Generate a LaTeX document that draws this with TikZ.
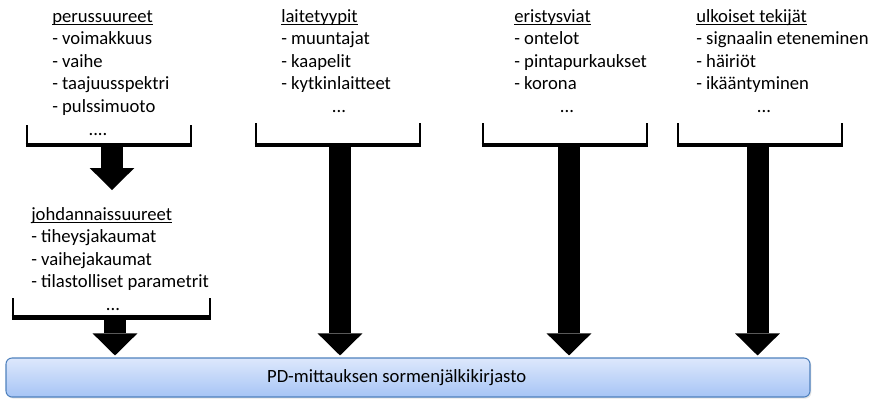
\documentclass[tikz,border=0pt]{standalone}
\usepackage{fontspec}
\setmainfont{Carlito}
\usetikzlibrary{arrows.meta, shadows}

\definecolor{boxtop}{RGB}{221,232,252}
\definecolor{boxbot}{RGB}{166,196,245}
\definecolor{boxline}{RGB}{79,129,189}

\newcommand{\otsikko}[1]{\setbox0\hbox{#1}\rlap{\rule[-1.9pt]{\wd0}{0.7pt}}\box0}

\begin{document}
\begin{tikzpicture}[x=0.75pt, y=-0.75pt,
   list/.style = {anchor=base west, align=left, inner sep=0pt, font=\fontsize{14}{16.875}\selectfont},
   more/.style = {anchor=base, inner sep=0pt, font=\fontsize{14}{16.875}\selectfont},
   side/.style = {line width=1.9pt},
   bar/.style = {line width=3.3pt},
   fat/.style = {line width=16.5pt, -{Triangle[length=16.5pt, width=33.5pt, line width=0pt]}},
   libbox/.style = {draw=boxline, line width=0.8pt, rounded corners=4.5pt,
      top color=boxtop, bottom color=boxbot, minimum width=603pt, minimum height=29.25pt,
      inner sep=0pt, font=\fontsize{14}{16.875}\selectfont,
      drop shadow={opacity=0.2, shadow xshift=1pt, shadow yshift=-1.2pt}}]
   \useasboundingbox (0,0) rectangle (880,405);

   % viimeisen rivin peruslinja
   \node(perus) at (52,112) [list] {\otsikko{perussuureet}\\- voimakkuus\\- vaihe\\- taajuusspektri\\- pulssimuoto};
   \node(johd) at (31,287.5) [list] {\otsikko{johdannaissuureet}\\- tiheysjakaumat\\- vaihejakaumat\\- tilastolliset parametrit};
   \node(laite) at (281,89.5) [list] {\otsikko{laitetyypit}\\- muuntajat\\- kaapelit\\- kytkinlaitteet};
   \node(vika) at (514,89.5) [list] {\otsikko{eristysviat}\\- ontelot\\- pintapurkaukset\\- korona};
   \node(ulko) at (696,89.5) [list] {\otsikko{ulkoiset tekijät}\\- signaalin eteneminen\\- häiriöt\\- ikääntyminen};

   \node(more1) at (98,135) [more] {....};
   \node(more2) at (113,310) [more] {...};
   \node(more3) at (339,112) [more] {...};
   \node(more4) at (567,112) [more] {...};
   \node(more5) at (764,112) [more] {...};

   \node(lib) at (408,377.5) [libbox] {PD-mittauksen sormenjälkikirjasto\hspace*{17pt}};

   % hakasulkeet
   \draw [side] (27,125) -- (27,145) (191,125) -- (191,145);
   \draw [bar] (25.7,145) -- (192.3,145);
   \draw [side] (13,298) -- (13,317.5) (210,298) -- (210,317.5);
   \draw [bar] (11.7,317.5) -- (211.3,317.5);
   \draw [side] (256,123) -- (256,145) (420,123) -- (420,145);
   \draw [bar] (254.7,145) -- (421.3,145);
   \draw [side] (483,123) -- (483,145) (647,123) -- (647,145);
   \draw [bar] (481.7,145) -- (648.3,145);
   \draw [side] (678,123) -- (678,145) (842,123) -- (842,145);
   \draw [bar] (676.7,145) -- (843.3,145);

   \coordinate(brk1) at (112,146);
   \coordinate(brk2) at (115,319);
   \coordinate(brk3) at (340,146);
   \coordinate(brk4) at (569,146);
   \coordinate(brk5) at (757.5,146);
   \coordinate(tip1) at (112,190);

   \draw [fat] (brk1) -- (tip1);
   \draw [fat, shorten >=1.5pt] (brk2) -- (brk2 |- lib.north);
   \draw [fat, shorten >=1.5pt] (brk3) -- (brk3 |- lib.north);
   \draw [fat, shorten >=1.5pt] (brk4) -- (brk4 |- lib.north);
   \draw [fat, shorten >=1.5pt] (brk5) -- (brk5 |- lib.north);
\end{tikzpicture}
\end{document}
